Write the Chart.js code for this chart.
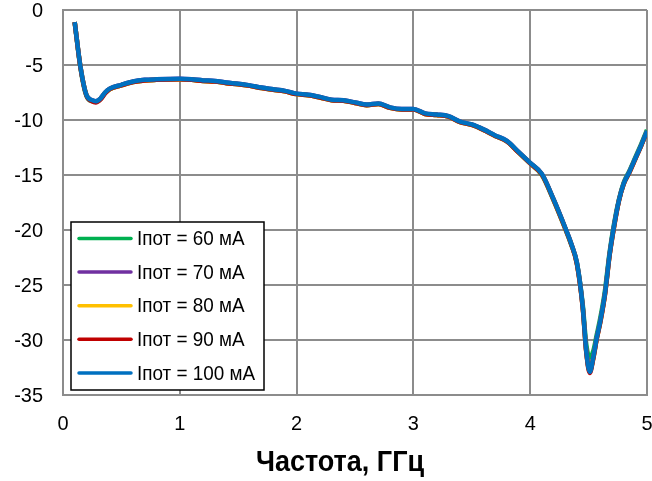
<!DOCTYPE html>
<html>
<head>
<meta charset="utf-8">
<title>Частота</title>
<style>
body { margin: 0; background: white; }
#box { width: 652px; height: 481px; }
</style>
</head>
<body>
<div id="box"><canvas id="chart1" width="652" height="481"></canvas></div>
<script src="https://cdn.jsdelivr.net/npm/chart.js@4/dist/chart.umd.min.js"></script>
<script>
// frequency points, GHz
var freq = [0.1, 0.15, 0.2, 0.25, 0.28, 0.32, 0.36, 0.4, 0.5, 0.6, 0.7, 0.8, 1.0, 1.1, 1.2, 1.3, 1.4, 1.5, 1.6, 1.7, 1.8, 1.9,
	2.0, 2.1, 2.2, 2.3, 2.4, 2.5, 2.6, 2.7, 2.8, 2.9, 3.0, 3.1, 3.2, 3.3, 3.4, 3.5, 3.6, 3.7, 3.8, 3.9,
	4.0, 4.1, 4.2, 4.3, 4.35, 4.4, 4.45, 4.48, 4.51, 4.54, 4.57, 4.6, 4.64, 4.68, 4.72, 4.76, 4.8, 4.85, 4.9, 4.95, 5.0];

var s60 = [-1.1, -5.3, -7.8, -8.3, -8.35, -8.1, -7.55, -7.2, -6.85, -6.55, -6.4, -6.35, -6.3, -6.35, -6.45, -6.5, -6.65, -6.75, -6.9, -7.1, -7.25, -7.4,
	-7.65, -7.75, -7.95, -8.2, -8.25, -8.45, -8.65, -8.55, -8.9, -9.05, -9.05, -9.45, -9.55, -9.7, -10.2, -10.45, -10.9, -11.45, -11.95, -12.95,
	-13.95, -15.0, -17.3, -19.9, -21.3, -23.0, -26.8, -30.4, -31.6, -31.0, -29.5, -28.0, -25.5, -22.0, -19.3, -17.2, -15.7, -14.6, -13.4, -12.2, -10.9];
var s70 = [-1.1, -5.2, -7.7, -8.2, -8.3, -8.05, -7.5, -7.15, -6.8, -6.5, -6.35, -6.3, -6.25, -6.3, -6.4, -6.45, -6.6, -6.7, -6.85, -7.05, -7.2, -7.35,
	-7.6, -7.7, -7.9, -8.15, -8.2, -8.4, -8.6, -8.5, -8.85, -9.0, -9.0, -9.4, -9.5, -9.65, -10.15, -10.4, -10.85, -11.4, -11.9, -12.9,
	-13.9, -14.9, -17.2, -19.8, -21.2, -23.0, -27.0, -31.0, -32.8, -31.6, -29.8, -28.3, -25.8, -22.2, -19.5, -17.3, -15.8, -14.7, -13.5, -12.3, -11.0];
var s80 = [-1.1, -5.2, -7.7, -8.25, -8.35, -8.1, -7.55, -7.2, -6.85, -6.55, -6.4, -6.35, -6.3, -6.35, -6.45, -6.5, -6.65, -6.75, -6.9, -7.1, -7.25, -7.4,
	-7.65, -7.75, -7.95, -8.2, -8.25, -8.45, -8.65, -8.55, -8.9, -9.05, -9.05, -9.45, -9.55, -9.7, -10.2, -10.45, -10.9, -11.45, -11.95, -12.95,
	-13.95, -14.95, -17.25, -19.85, -21.25, -23.1, -27.1, -31.1, -32.9, -31.7, -29.9, -28.4, -25.9, -22.3, -19.6, -17.35, -15.85, -14.75, -13.55, -12.35, -11.05];
var s90 = [-1.1, -5.25, -7.75, -8.3, -8.4, -8.15, -7.6, -7.2, -6.85, -6.55, -6.4, -6.35, -6.3, -6.35, -6.45, -6.5, -6.65, -6.75, -6.9, -7.1, -7.25, -7.4,
	-7.65, -7.75, -7.95, -8.2, -8.25, -8.45, -8.65, -8.55, -8.9, -9.05, -9.05, -9.45, -9.55, -9.7, -10.2, -10.45, -10.9, -11.45, -11.95, -12.95,
	-13.95, -14.95, -17.25, -19.85, -21.25, -23.1, -27.1, -31.1, -33.0, -31.7, -29.9, -28.4, -25.9, -22.3, -19.6, -17.35, -15.85, -14.75, -13.55, -12.35, -11.05];
var s100 = [-1.1, -5.2, -7.7, -8.2, -8.3, -8.05, -7.5, -7.15, -6.8, -6.5, -6.35, -6.3, -6.25, -6.3, -6.4, -6.45, -6.6, -6.7, -6.85, -7.05, -7.2, -7.35,
	-7.6, -7.7, -7.9, -8.15, -8.2, -8.4, -8.6, -8.5, -8.85, -9.0, -9.0, -9.4, -9.5, -9.65, -10.15, -10.4, -10.85, -11.4, -11.9, -12.9,
	-13.9, -14.9, -17.2, -19.8, -21.2, -23.0, -27.0, -31.0, -32.9, -31.6, -29.8, -28.3, -25.8, -22.2, -19.5, -17.3, -15.8, -14.7, -13.5, -12.3, -11.0];

var names = ["Iпот = 60 мА", "Iпот = 70 мА", "Iпот = 80 мА", "Iпот = 90 мА", "Iпот = 100 мА"];
var colors = ["#00b050", "#7030a0", "#ffc000", "#c00000", "#0070c0"];
var series = [s60, s70, s80, s90, s100];
var xTitle = "Частота, ГГц";

var fnt = "'Liberation Sans', Arial, sans-serif";

function toPoints(vals) {
	var pts = [];
	for (var i = 0; i < freq.length; i++) {
		pts.push({x: freq[i], y: vals[i]});
	}
	return pts;
}

var sets = [];
for (var k = 0; k < series.length; k++) {
	sets.push({
		label: names[k],
		data: toPoints(series[k]),
		borderColor: colors[k],
		backgroundColor: colors[k],
		borderWidth: 4.5,
		pointRadius: 0,
		cubicInterpolationMode: 'monotone',
		fill: false,
		order: series.length - 1 - k   // last series (100 mA) ends up on top
	});
}

// narrow text helper - the original uses a condensed face
function narrowText(c, txt, x, y, sx) {
	c.save();
	c.translate(x, y);
	c.scale(sx, 1);
	c.fillText(txt, 0, 0);
	c.restore();
}

// tick labels, axis title and the boxed legend
var extras = {
	id: 'extras',
	afterDraw: function(chart) {
		var c = chart.ctx;
		var xs = chart.scales.x, ys = chart.scales.y;
		c.save();
		c.fillStyle = "black";
		c.font = "21px " + fnt;
		c.textBaseline = "middle";
		c.textAlign = "right";
		ys.ticks.forEach(function(t) {
			narrowText(c, String(t.value), 43, ys.getPixelForValue(t.value) + 1, 0.95);
		});
		c.textAlign = "center";
		xs.ticks.forEach(function(t) {
			narrowText(c, String(t.value), xs.getPixelForValue(t.value), 424, 0.95);
		});
		c.font = "bold 30px " + fnt;
		c.textBaseline = "alphabetic";
		narrowText(c, xTitle, 340, 471, 0.9);

		// legend
		c.fillStyle = "white";
		c.fillRect(71, 222, 193, 168);
		c.strokeStyle = "black";
		c.lineWidth = 1.5;
		c.strokeRect(71, 222, 193, 168);
		c.font = "21px " + fnt;
		c.textBaseline = "middle";
		c.textAlign = "left";
		for (var i = 0; i < chart.data.datasets.length; i++) {
			var ds = chart.data.datasets[i];
			var yy = 238.5 + i * 33.6;
			c.strokeStyle = ds.borderColor;
			c.lineWidth = 3.5;
			c.lineCap = "round";
			c.beginPath();
			c.moveTo(79, yy);
			c.lineTo(131, yy);
			c.stroke();
			c.fillStyle = "black";
			narrowText(c, ds.label, 137, yy + 1, 0.9);
		}
		c.restore();
	}
};

var ctx = document.getElementById('chart1').getContext('2d');
var myChart = new Chart(ctx, {
	type: 'line',
	data: { datasets: sets },
	plugins: [extras],
	options: {
		responsive: false,
		animation: false,
		layout: { padding: { left: 0, right: 5, top: 10, bottom: 0 } },
		plugins: {
			legend: { display: false },
			tooltip: { enabled: false }
		},
		scales: {
			x: {
				type: 'linear',
				min: 0, max: 5,
				ticks: { stepSize: 1, display: false },
				grid: { color: "#8c8c8c", lineWidth: 2, drawTicks: false },
				border: { color: "#8c8c8c", width: 2 },
				afterFit: function(scale) { scale.height = 86; }
			},
			y: {
				min: -35, max: 0,
				ticks: { stepSize: 5, display: false },
				grid: { color: "#8c8c8c", lineWidth: 2, drawTicks: false },
				border: { color: "#8c8c8c", width: 2 },
				afterFit: function(scale) { scale.width = 63; }
			}
		}
	}
});
</script>
</body>
</html>
